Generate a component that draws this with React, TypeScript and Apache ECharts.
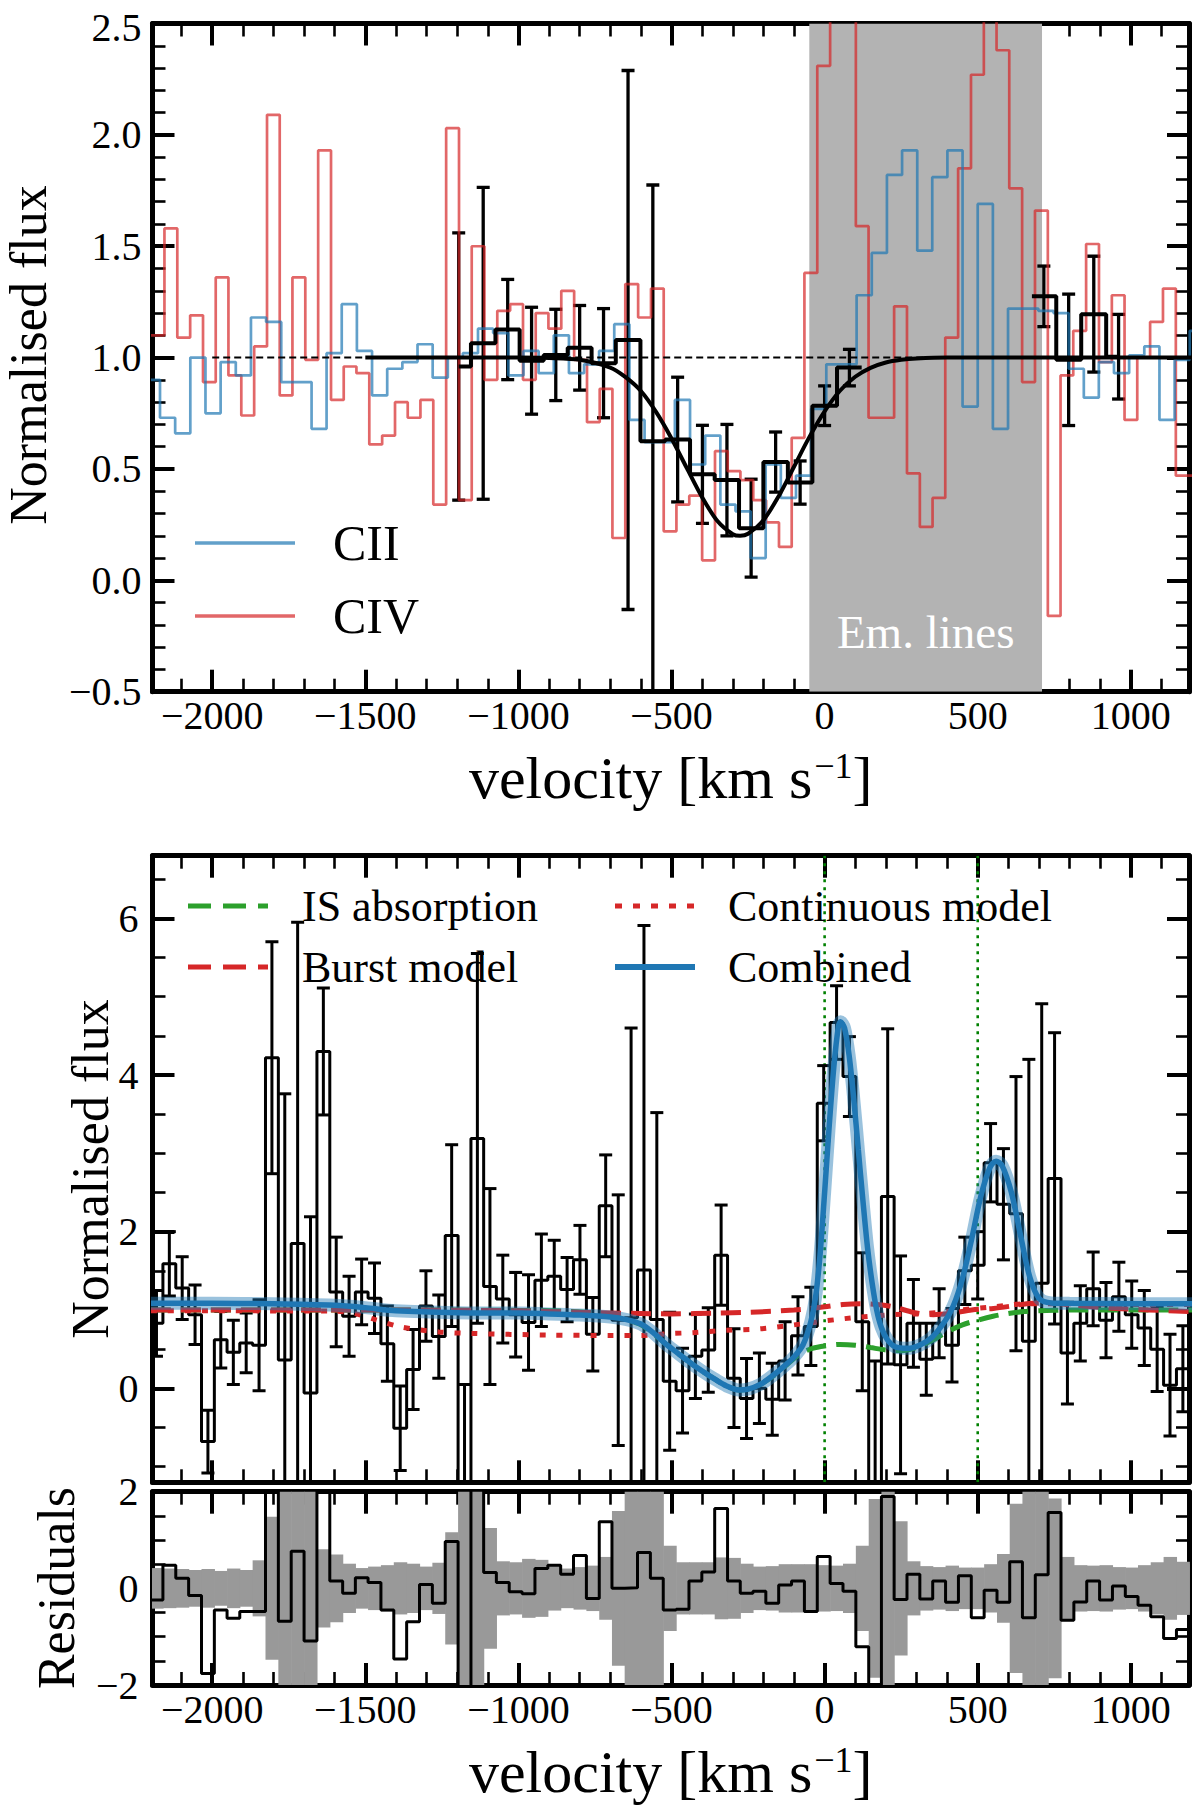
import React, { useEffect, useRef } from 'react';
import * as echarts from 'echarts';

const FONT = 'Liberation Serif';

// ---- axes ----
const X_MIN = -2195;
const X_MAX = 1190;
const X_MAJOR = [-2000, -1500, -1000, -500, 0, 500, 1000];
const TOP_Y = [-0.5, 2.5];
const TOP_Y_MAJOR = [-0.5, 0, 0.5, 1, 1.5, 2, 2.5];
const MID_Y = [-1.2, 6.8];
const MID_Y_MAJOR = [0, 2, 4, 6];
const RES_Y = [-2, 2];
const RES_Y_MAJOR = [-2, 0, 2];

// ---- top panel: CII / CIV spectra ----
const CIV_VEL = [-2218, -2177, -2135, -2093, -2051, -2009, -1968, -1926, -1884, -1842, -1800, -1759, -1717, -1675, -1633, -1591, -1550, -1508, -1466, -1424, -1382, -1341, -1299, -1257, -1215, -1173, -1132, -1090, -1048, -1006, -964, -923, -881, -839, -797, -755, -714, -672, -630, -588, -546, -505, -463, -421, -379, -337, -296, -254, -212, -170, -128, -87, -45, -3, 39, 81, 123, 164, 206, 248, 290, 332, 373, 415, 457, 499, 541, 582, 624, 666, 708, 750, 791, 833, 875, 917, 959, 1000, 1042, 1084, 1126, 1168, 1209];
const CIV_FLUX = [1.10, 1.10, 1.58, 1.09, 1.19, 0.89, 1.36, 0.92, 0.74, 1.05, 2.09, 0.83, 1.36, 0.99, 1.93, 0.81, 0.96, 0.93, 0.61, 0.65, 0.80, 0.73, 0.81, 0.34, 2.03, 0.36, 1.50, 0.90, 1.21, 1.24, 0.90, 1.20, 1.13, 1.30, 0.99, 0.71, 0.86, 0.19, 1.33, 1.18, 1.31, 0.22, 0.34, 0.38, 0.09, 0.58, 0.49, 0.45, 0.36, 0.26, 0.15, 0.64, 1.38, 2.31, 3.0, 3.0, 1.59, 0.73, 0.73, 1.23, 0.48, 0.24, 0.37, 1.09, 1.85, 2.27, 3.0, 2.38, 1.76, 0.89, 1.66, -0.16, 0.92, 1.12, 1.51, 0.98, 1.28, 0.72, 1.00, 1.16, 1.31, 0.47, 0.47];
const CII_VEL = [-2244, -2195, -2146, -2096, -2047, -1997, -1948, -1898, -1849, -1799, -1750, -1700, -1651, -1602, -1552, -1503, -1453, -1404, -1354, -1305, -1255, -1206, -1157, -1107, -1058, -1008, -959, -909, -860, -810, -761, -712, -662, -613, -563, -514, -464, -415, -365, -316, -266, -217, -168, -118, -69, -19, 30, 80, 129, 179, 228, 278, 327, 376, 426, 475, 525, 574, 624, 673, 723, 772, 822, 871, 920, 970, 1019, 1069, 1118, 1168, 1217];
const CII_FLUX = [0.90, 0.90, 0.73, 0.66, 1.00, 0.75, 0.98, 0.92, 1.18, 1.16, 0.89, 0.89, 0.68, 1.02, 1.24, 1.03, 0.83, 0.95, 0.98, 1.06, 0.91, 1.00, 1.02, 1.13, 1.11, 0.92, 1.03, 0.93, 1.10, 0.93, 0.97, 1.03, 1.15, 0.72, 0.62, 0.62, 0.81, 0.52, 0.65, 0.34, 0.31, 0.10, 0.52, 0.37, 0.47, 0.77, 0.97, 0.97, 1.28, 1.47, 1.82, 1.93, 1.48, 1.81, 1.93, 0.78, 1.69, 0.68, 1.22, 1.22, 1.21, 1.20, 0.95, 0.82, 0.98, 0.93, 1.01, 1.05, 0.72, 0.99, 1.12];

// stacked absorption profile (black), masked inside the emission window
const TOP_VEL = [-1195, -1115, -1035, -957, -878, -800, -722, -642, -561, -480, -399, -319, -240, -160, -80, 0, 81, 161, 241, 321, 400, 480, 560, 638, 716, 797, 879, 960];
const TOP_FLUX = [0.96, 1.064, 1.126, 0.986, 1.012, 1.044, 0.975, 1.079, 0.625, 0.632, 0.476, 0.45, 0.234, 0.531, 0.439, 0.784, 0.955, null, null, null, null, null, null, null, 1.275, 0.99, 1.195, 1.004];
const TOP_ERR = [0.60, 0.70, 0.225, 0.24, 0.205, 0.19, 0.245, 1.21, 1.15, 0.28, 0.22, 0.25, 0.22, 0.135, 0.097, 0.089, 0.082, null, null, null, null, null, null, null, 0.136, 0.295, 0.26, 0.19];

const TOP_FIT_VEL = [-1500, -1000, -900, -800, -700, -650, -600, -550, -500, -450, -400, -350, -300, -276, -250, -200, -150, -100, -50, 0, 50, 100, 150, 200, 250, 300, 400, 1200];
const TOP_FIT_FLUX = [1.0, 1.0, 0.998, 0.99, 0.955, 0.912, 0.85, 0.755, 0.637, 0.504, 0.373, 0.266, 0.207, 0.2, 0.209, 0.27, 0.378, 0.51, 0.643, 0.759, 0.851, 0.914, 0.954, 0.978, 0.99, 0.996, 1.0, 1.0];
const CONT_LEVEL = [[-2000, 1], [1200, 1]];
const EM_BAND = [-50, 710];
const EM_LABEL = 'Em. lines';
const TOP_LEGEND = ['CII', 'CIV'];

// ---- middle panel: Lya-region spectrum ----
const MID_VEL = [-2224, -2182, -2140, -2098, -2056, -2014, -1972, -1931, -1889, -1847, -1805, -1763, -1721, -1679, -1637, -1595, -1553, -1512, -1470, -1428, -1386, -1344, -1302, -1260, -1218, -1176, -1134, -1093, -1051, -1009, -967, -925, -883, -841, -799, -757, -715, -674, -632, -590, -548, -506, -464, -422, -380, -338, -296, -255, -213, -171, -129, -87, -45, -3, 39, 81, 123, 165, 206, 248, 290, 332, 374, 416, 458, 500, 542, 584, 625, 667, 709, 751, 793, 835, 877, 919, 961, 1003, 1044, 1086, 1128, 1170, 1212];
const MID_FLUX = [1.21, 0.83, 1.59, 1.28, 0.94, -0.68, 0.62, 0.46, 0.58, 0.55, 4.22, 0.36, 1.85, -0.06, 4.30, 1.23, 0.92, 1.23, 1.15, 0.57, -0.51, 0.24, 1.05, 0.66, 1.95, -2.0, 3.19, 1.30, 1.14, 0.94, 0.84, 1.38, 1.43, 1.26, 1.64, 0.69, 2.33, 0.87, 0.90, 1.51, 0.88, 0.09, -0.03, 0.41, 0.49, 1.70, 0.13, -0.13, 0.0, -0.14, 0.35, 0.67, 0.79, 3.64, 4.67, 3.98, 0.85, -1.5, 2.45, 0.30, 0.83, 0.37, 0.83, 0.55, 1.50, 1.57, 2.88, 2.35, 2.23, 0.60, 1.34, 2.68, 0.45, 0.83, 1.27, 0.87, 1.17, 0.94, 0.77, 0.50, 0.04, 0.25, 0.30];
const MID_ERR = [0.40, 0.42, 0.41, 0.40, 0.38, 0.40, 0.36, 0.41, 0.38, 0.58, 1.48, 3.4, 4.1, 2.25, 0.81, 0.7, 0.51, 0.42, 0.45, 0.48, 0.54, 0.51, 0.45, 0.53, 1.16, 2.05, 2.36, 1.25, 0.56, 0.54, 0.61, 0.59, 0.46, 0.41, 0.44, 0.47, 0.65, 1.6, 3.7, 4.4, 2.64, 0.88, 0.54, 0.54, 0.54, 0.64, 0.63, 0.51, 0.45, 0.46, 0.50, 0.50, 0.50, 0.48, 0.47, 0.51, 0.88, 1.85, 2.14, 1.39, 0.56, 0.46, 0.44, 0.47, 0.43, 0.43, 0.50, 0.71, 1.75, 3.6, 3.57, 1.86, 0.65, 0.48, 0.47, 0.48, 0.44, 0.43, 0.48, 0.54, 0.65, 0.55, 0.5];
const MID_RES = [0.13, -0.24, 0.48, 0.21, -0.15, -1.76, -0.45, -0.62, -0.48, -0.48, 3.1, -0.68, 0.77, -1.09, 3.2, 0.15, -0.10, 0.22, 0.12, -0.45, -1.46, -0.69, 0.08, -0.31, 0.97, -3.0, 2.2, 0.33, 0.12, -0.07, -0.11, 0.41, 0.48, 0.29, 0.68, -0.21, 1.38, 0.0, 0.01, 0.74, 0.21, -0.45, -0.43, 0.15, 0.34, 1.65, 0.15, -0.10, -0.06, -0.31, 0.07, 0.15, -0.48, 0.66, 0.10, -0.06, -1.21, -2.6, 1.9, -0.23, 0.29, -0.22, 0.15, -0.29, 0.26, -0.61, -0.04, -0.29, 0.55, -0.61, 0.28, 1.57, -0.66, -0.28, 0.15, -0.24, 0.05, -0.17, -0.35, -0.59, -1.04, -0.85, -0.8];

const IS_VEL = [-2200, -1800, -1400, -1000, -850, -750, -700, -650, -600, -560, -520, -480, -440, -400, -360, -320, -280, -250, -210, -170, -130, -100, -70, -40, 0, 50, 100, 150, 200, 250, 300, 350, 400, 450, 500, 550, 600, 650, 700, 800, 1200];
const IS_FLUX = [1.0, 1.0, 1.0, 0.995, 0.985, 0.96, 0.93, 0.88, 0.81, 0.70, 0.57, 0.45, 0.33, 0.22, 0.12, 0.03, -0.02, -0.01, 0.05, 0.15, 0.28, 0.38, 0.46, 0.51, 0.54, 0.56, 0.55, 0.52, 0.49, 0.48, 0.52, 0.61, 0.72, 0.81, 0.87, 0.92, 0.955, 0.98, 0.99, 1.0, 1.0];
const BURST_VEL = [-2200, -1500, -1000, -800, -600, -500, -350, -250, -100, 0, 60, 116, 170, 224, 290, 355, 420, 480, 551, 610, 660, 720, 820, 950, 1200];
const BURST_FLUX = [1.0, 1.0, 0.99, 0.97, 0.955, 0.95, 0.96, 0.97, 1.0, 1.04, 1.07, 1.08, 1.07, 1.04, 0.97, 0.94, 0.96, 1.0, 1.02, 1.05, 1.08, 1.09, 1.06, 1.02, 0.98];
const CONT_VEL = [-2200, -1600, -1530, -1470, -1380, -1260, -1150, -900, -700, -600, -500, -430, -320, -210, -100, 0, 116, 224, 333, 442, 551, 660, 800, 1000, 1200];
const CONT_FLUX = [0.99, 0.985, 0.95, 0.88, 0.78, 0.72, 0.70, 0.68, 0.675, 0.675, 0.70, 0.71, 0.74, 0.76, 0.81, 0.86, 0.91, 0.94, 0.955, 1.0, 1.04, 1.08, 1.08, 1.07, 1.07];
const COMB_VEL = [-2200, -2000, -1800, -1600, -1500, -1400, -1200, -1000, -900, -800, -700, -650, -600, -560, -520, -480, -440, -400, -360, -320, -280, -250, -210, -170, -130, -100, -70, -45, -30, -15, 0, 15, 30, 45, 52, 65, 80, 95, 110, 125, 140, 155, 170, 185, 205, 230, 270, 310, 350, 390, 420, 450, 480, 510, 540, 560, 580, 610, 640, 670, 700, 740, 800, 1000, 1200];
const COMB_FLUX = [1.085, 1.085, 1.08, 1.06, 1.03, 0.99, 0.965, 0.96, 0.95, 0.935, 0.91, 0.88, 0.82, 0.71, 0.57, 0.45, 0.33, 0.22, 0.12, 0.03, -0.02, -0.01, 0.05, 0.16, 0.29, 0.40, 0.56, 0.85, 1.15, 1.7, 2.5, 3.35, 4.1, 4.62, 4.68, 4.6, 4.25, 3.7, 3.05, 2.4, 1.8, 1.35, 1.0, 0.78, 0.62, 0.53, 0.51, 0.55, 0.65, 0.84, 1.05, 1.4, 1.9, 2.45, 2.82, 2.9, 2.84, 2.5, 1.95, 1.42, 1.15, 1.09, 1.085, 1.08, 1.08];
const LINE_CENTRES = [0, 500];
const MID_LEGEND = ['IS absorption', 'Burst model', 'Continuous model', 'Combined'];

// ---- layout ----
const GRID_LEFT = 152.5;
const GRID_WIDTH = 1036.5;
const GRIDS = [
  { top: 18.3, height: 673.4, y: TOP_Y, major: TOP_Y_MAJOR, minorStep: 0.1, digits: 1, xLabels: true },
  { top: 855.7, height: 626.6, y: MID_Y, major: MID_Y_MAJOR, minorStep: 0.5, digits: 0, xLabels: false },
  { top: 1491.7, height: 193.3, y: RES_Y, major: RES_Y_MAJOR, minorStep: 0.5, digits: 0, xLabels: true },
];

const BLUE = '#1f77b4';
const RED = '#d62728';
const GREEN = '#2ca02c';

function range(a: number, b: number, step: number) {
  const out: number[] = [];
  for (let v = a; v <= b + 1e-9; v += step) out.push(Math.round(v * 1000) / 1000);
  return out;
}
const minus = (s: string) => s.replace('-', '\u2212');

function stepsMid(xs: number[], ys: (number | null)[]) {
  const out: (number | null)[][] = [];
  for (let i = 0; i < xs.length; i++) {
    const y = ys[i];
    if (y === null) {
      if (out.length && out[out.length - 1][1] !== null) out.push([xs[i], null]);
      continue;
    }
    const l = i > 0 ? (xs[i - 1] + xs[i]) / 2 : xs[i];
    const r = i < xs.length - 1 ? (xs[i] + xs[i + 1]) / 2 : xs[i];
    out.push([l, y], [r, y]);
  }
  return out;
}

function pairs(xs: number[], ys: number[]) {
  return xs.map((x, i) => [x, ys[i]]);
}

function axesFor(gi: number) {
  const g = GRIDS[gi];
  const line = { show: true, onZero: false, lineStyle: { color: '#000', width: 5 } };
  const noLine = { show: false, onZero: false };
  const majT = { inside: true, length: 22, lineStyle: { color: '#000', width: 4 } };
  const minT = { inside: true, length: 13, lineStyle: { color: '#000', width: 2.6 } };
  const xMinor = range(-2100, 1100, 100);
  const yMinor = range(Math.ceil(g.y[0] / g.minorStep) * g.minorStep, g.y[1], g.minorStep);
  const xc = { type: 'value', gridIndex: gi, min: X_MIN, max: X_MAX, splitLine: { show: false }, axisLine: noLine, axisLabel: { show: false } };
  const yc = { type: 'value', gridIndex: gi, min: g.y[0], max: g.y[1], splitLine: { show: false }, axisLine: noLine, axisLabel: { show: false } };
  const labelStyle = { color: '#000', fontFamily: FONT, fontSize: 40, lineHeight: 34 };
  const x = [
    {
      ...xc, position: 'bottom', axisLine: line, axisTick: { ...majT, customValues: X_MAJOR },
      axisLabel: g.xLabels
        ? { ...labelStyle, show: true, margin: 7, customValues: X_MAJOR, formatter: (v: number) => minus(String(v)) }
        : { show: false },
    },
    { ...xc, position: 'bottom', axisTick: { ...minT, customValues: xMinor } },
    { ...xc, position: 'top', axisLine: line, axisTick: { ...majT, customValues: X_MAJOR } },
    { ...xc, position: 'top', axisTick: { ...minT, customValues: xMinor } },
  ];
  const y = [
    {
      ...yc, position: 'left', axisLine: line, axisTick: { ...majT, customValues: g.major },
      axisLabel: {
        ...labelStyle, show: true, margin: gi === 0 ? 11 : 14, customValues: g.major,
        formatter: (v: number) => {
          const s = minus(v.toFixed(g.digits));
          // keep the top-most label of the upper panel inside the canvas
          return gi === 0 && v === g.y[1] ? `{t|${s}}` : s;
        },
        rich: { t: { color: '#000', fontFamily: FONT, fontSize: 40, lineHeight: 34, padding: [7, 0, 0, 0] } },
      },
    },
    { ...yc, position: 'left', axisTick: { ...minT, customValues: yMinor } },
    { ...yc, position: 'right', axisLine: line, axisTick: { ...majT, customValues: g.major } },
    { ...yc, position: 'right', axisTick: { ...minT, customValues: yMinor } },
  ];
  return { x, y };
}

function lineSeries(gi: number, data: any[], color: string, width: number, type: any = 'solid', extra: any = {}) {
  return {
    type: 'line', xAxisIndex: gi * 4, yAxisIndex: gi * 4, data, showSymbol: false, symbol: 'none',
    clip: true, silent: true, lineStyle: { color, width, type, cap: 'butt' }, ...extra,
  };
}

function errorBars(gi: number, xs: number[], ys: (number | null)[], es: (number | null)[], width: number, cap: number) {
  const data: number[][] = [];
  xs.forEach((x, i) => {
    const y = ys[i];
    const e = es[i];
    if (y === null || e === null) return;
    data.push([x, y - e, y + e]);
  });
  return {
    type: 'custom', xAxisIndex: gi * 4, yAxisIndex: gi * 4, data, clip: true, silent: true,
    renderItem: (_p: any, api: any) => {
      const a = api.coord([api.value(0), api.value(1)]);
      const b = api.coord([api.value(0), api.value(2)]);
      const st = { stroke: '#000', lineWidth: width };
      return {
        type: 'group',
        children: [
          { type: 'line', shape: { x1: a[0], y1: a[1], x2: b[0], y2: b[1] }, style: st },
          { type: 'line', shape: { x1: a[0] - cap, y1: a[1], x2: a[0] + cap, y2: a[1] }, style: st },
          { type: 'line', shape: { x1: b[0] - cap, y1: b[1], x2: b[0] + cap, y2: b[1] }, style: st },
        ],
      };
    },
  };
}

function legendItem(x1: number, y: number, len: number, color: string, width: number, dash: any, label: string, tx: number, size: number) {
  return [
    { type: 'line', shape: { x1, y1: y, x2: x1 + len, y2: y }, style: { stroke: color, lineWidth: width, lineDash: dash, lineCap: 'butt' }, z: 100 },
    { type: 'text', x: tx, y, style: { text: label, fontFamily: FONT, fontSize: size, fill: '#000', align: 'left', verticalAlign: 'middle' }, z: 100 },
  ];
}

function buildOption() {
  const xAxis: any[] = [];
  const yAxis: any[] = [];
  GRIDS.forEach((_g, gi) => {
    const a = axesFor(gi);
    xAxis.push(...a.x);
    yAxis.push(...a.y);
  });

  const series: any[] = [
    // top panel
    {
      type: 'custom', xAxisIndex: 0, yAxisIndex: 0, clip: true, silent: true,
      data: [[EM_BAND[0], EM_BAND[1]]],
      renderItem: (_p: any, api: any) => {
        const a = api.coord([api.value(0), TOP_Y[1]]);
        const b = api.coord([api.value(1), TOP_Y[0]]);
        return {
          type: 'group',
          children: [
            { type: 'rect', shape: { x: a[0], y: a[1], width: b[0] - a[0], height: b[1] - a[1] }, style: { fill: '#b3b3b3' } },
            { type: 'text', x: (a[0] + b[0]) / 2, y: b[1] - 60, style: { text: EM_LABEL, fill: '#fff', fontFamily: FONT, fontSize: 47, align: 'center', verticalAlign: 'middle' } },
          ],
        };
      },
    },
    lineSeries(0, stepsMid(CIV_VEL, CIV_FLUX), 'rgba(214,39,40,0.7)', 2.7),
    lineSeries(0, stepsMid(CII_VEL, CII_FLUX), 'rgba(31,119,180,0.7)', 2.7),
    lineSeries(0, CONT_LEVEL, '#000', 2, [7, 4]),
    lineSeries(0, stepsMid(TOP_VEL, TOP_FLUX), '#000', 4),
    errorBars(0, TOP_VEL, TOP_FLUX, TOP_ERR, 3.3, 6.5),
    lineSeries(0, pairs(TOP_FIT_VEL, TOP_FIT_FLUX), '#000', 4, 'solid', { smooth: 0.3 }),

    // middle panel
    {
      type: 'custom', xAxisIndex: 4, yAxisIndex: 4, clip: true, silent: true,
      data: LINE_CENTRES.map((v) => [v, MID_Y[0]]),
      renderItem: (_p: any, api: any) => {
        const a = api.coord([api.value(0), MID_Y[0]]);
        const b = api.coord([api.value(0), MID_Y[1]]);
        return { type: 'line', shape: { x1: a[0], y1: a[1], x2: b[0], y2: b[1] }, style: { stroke: '#008000', lineWidth: 2.6, lineDash: [3, 5] } };
      },
    },
    lineSeries(1, stepsMid(MID_VEL, MID_FLUX), '#000', 3),
    errorBars(1, MID_VEL, MID_FLUX, MID_ERR, 3, 6.5),
    lineSeries(1, pairs(IS_VEL, IS_FLUX), GREEN, 5, [20, 10], { smooth: 0.3 }),
    lineSeries(1, pairs(BURST_VEL, BURST_FLUX), RED, 5, [20, 10], { smooth: 0.3 }),
    lineSeries(1, pairs(CONT_VEL, CONT_FLUX), RED, 5, [6, 11], { smooth: 0.3 }),
    lineSeries(1, pairs(COMB_VEL, COMB_FLUX), 'rgba(31,119,180,0.45)', 13, 'solid', { smooth: 0.3 }),
    lineSeries(1, pairs(COMB_VEL, COMB_FLUX), BLUE, 5.5, 'solid', { smooth: 0.3 }),

    // residual panel
    {
      type: 'custom', xAxisIndex: 8, yAxisIndex: 8, clip: true, silent: true,
      data: MID_VEL.map((v, i) => [
        i > 0 ? (MID_VEL[i - 1] + v) / 2 : v,
        i < MID_VEL.length - 1 ? (v + MID_VEL[i + 1]) / 2 : v,
        MID_ERR[i],
      ]),
      renderItem: (_p: any, api: any) => {
        const a = api.coord([api.value(0), api.value(2)]);
        const b = api.coord([api.value(1), -api.value(2)]);
        return { type: 'rect', shape: { x: a[0], y: a[1], width: b[0] - a[0] + 0.6, height: b[1] - a[1] }, style: { fill: '#999999' } };
      },
    },
    lineSeries(2, stepsMid(MID_VEL, MID_RES), '#000', 3),
  ];

  const titleRich = {
    a: { fontFamily: FONT, fontSize: 60, lineHeight: 60, verticalAlign: 'bottom', fill: '#000' },
    b: { fontFamily: FONT, fontSize: 36, lineHeight: 30, verticalAlign: 'top', fill: '#000', padding: [0, 0, 0, 2] },
  };

  const graphic: any[] = [
    ...legendItem(195, 543, 100, 'rgba(31,119,180,0.7)', 3.3, null, TOP_LEGEND[0], 333, 50),
    ...legendItem(195, 616, 100, 'rgba(214,39,40,0.7)', 3.3, null, TOP_LEGEND[1], 333, 50),
    ...legendItem(188, 906, 80, GREEN, 5, [23, 12], MID_LEGEND[0], 302, 44),
    ...legendItem(188, 967, 80, RED, 5, [23, 12], MID_LEGEND[1], 302, 44),
    ...legendItem(615, 906, 80, RED, 5, [7, 11], MID_LEGEND[2], 728, 44),
    ...legendItem(615, 967, 80, BLUE, 6, null, MID_LEGEND[3], 728, 44),
    { type: 'text', x: 28, y: 355, rotation: Math.PI / 2, style: { text: 'Normalised flux', fontFamily: FONT, fontSize: 52, fill: '#000', align: 'center', verticalAlign: 'middle' } },
    { type: 'text', x: 90, y: 1169, rotation: Math.PI / 2, style: { text: 'Normalised flux', fontFamily: FONT, fontSize: 52, fill: '#000', align: 'center', verticalAlign: 'middle' } },
    { type: 'text', x: 56, y: 1588, rotation: Math.PI / 2, style: { text: 'Residuals', fontFamily: FONT, fontSize: 52, fill: '#000', align: 'center', verticalAlign: 'middle' } },
    ...[778, 1772].map((y) => ({
      type: 'text', x: GRID_LEFT + GRID_WIDTH / 2, y,
      style: { text: '{a|velocity [km s}{b|\u22121}{a|]}', align: 'center', verticalAlign: 'middle', rich: titleRich },
    })),
  ];

  return {
    animation: false,
    backgroundColor: '#fff',
    grid: GRIDS.map((g) => ({ left: GRID_LEFT, width: GRID_WIDTH, top: g.top, height: g.height })),
    xAxis,
    yAxis,
    series,
    graphic,
  };
}

export default function App() {
  const chartRef = useRef<HTMLDivElement>(null);

  useEffect(() => {
    document.body.style.margin = '0';
    if (!chartRef.current) return;
    const chart = echarts.init(chartRef.current, null, { renderer: 'svg' });
    chart.setOption(buildOption() as any);
    return () => chart.dispose();
  }, []);

  return <div ref={chartRef} style={{ width: 1200, height: 1810 }} />;
}
